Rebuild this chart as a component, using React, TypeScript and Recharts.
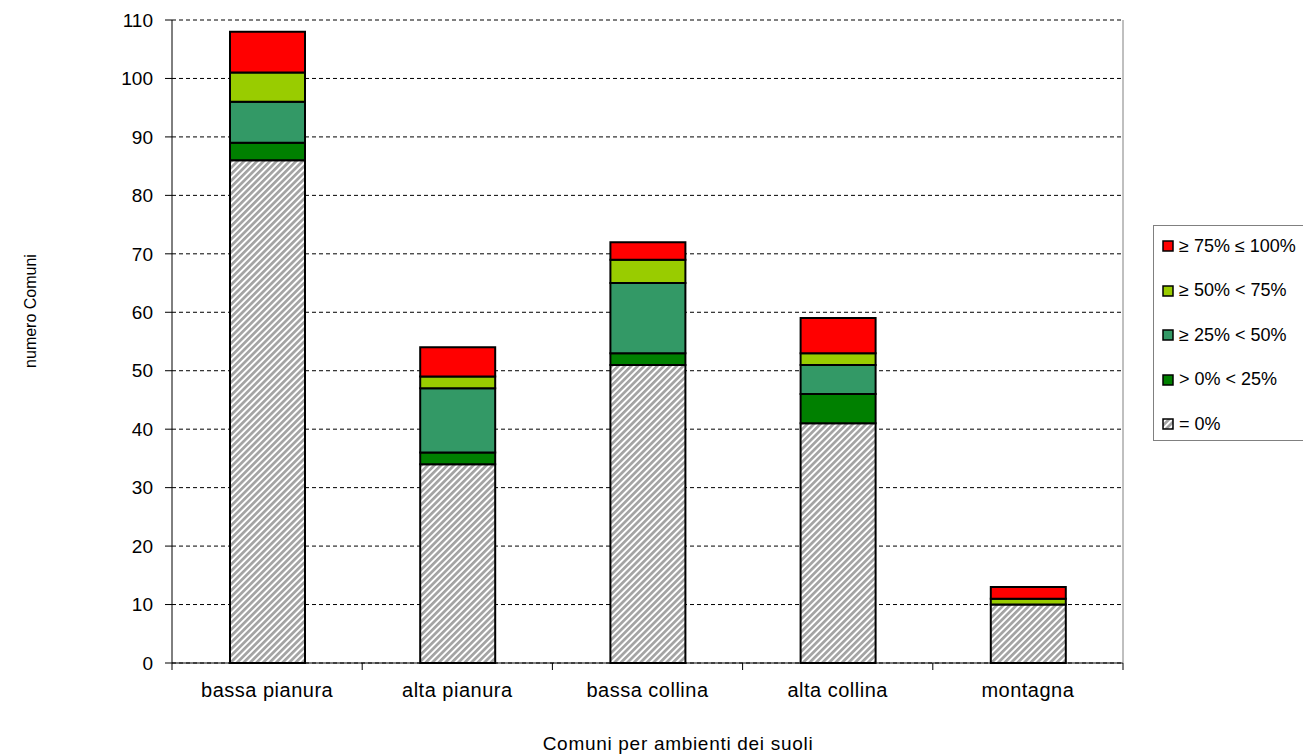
import React from "react";
import { BarChart, Bar, XAxis, YAxis, CartesianGrid } from "recharts";

const categories = [
  "bassa pianura",
  "alta pianura",
  "bassa collina",
  "alta collina",
  "montagna",
];
const zeroPct = [86, 34, 51, 41, 10];
const upTo25 = [3, 2, 2, 5, 0];
const upTo50 = [7, 11, 12, 5, 0];
const upTo75 = [5, 2, 4, 2, 1];
const upTo100 = [7, 5, 3, 6, 2];
const yTicks = [0, 10, 20, 30, 40, 50, 60, 70, 80, 90, 100, 110];

const series = [
  { key: "zeroPct", label: "= 0%", fill: "url(#hatch)" },
  { key: "upTo25", label: "> 0% < 25%", fill: "#008000" },
  { key: "upTo50", label: "≥ 25% < 50%", fill: "#339966" },
  { key: "upTo75", label: "≥ 50% < 75%", fill: "#99CC00" },
  { key: "upTo100", label: "≥ 75% ≤ 100%", fill: "#FF0000" },
];

const data = categories.map((name, i) => ({
  name,
  zeroPct: zeroPct[i],
  upTo25: upTo25[i],
  upTo50: upTo50[i],
  upTo75: upTo75[i],
  upTo100: upTo100[i],
}));

const WIDTH = 1303;
const HEIGHT = 756;
const MARGIN = { top: 20, right: 179, bottom: 0, left: 0 };
const Y_AXIS_W = 172;
const PLOT_W = WIDTH - MARGIN.left - MARGIN.right - Y_AXIS_W - 1;
const BAND = PLOT_W / categories.length;
const FONT = '"Liberation Sans", Arial, sans-serif';

function CategoryTick(props: any) {
  const { x, y, payload, index } = props;
  return (
    <g>
      <line x1={x - BAND / 2} x2={x - BAND / 2} y1={y} y2={y + 7} stroke="#000" />
      {index === categories.length - 1 && (
        <line x1={x + BAND / 2} x2={x + BAND / 2} y1={y} y2={y + 7} stroke="#000" />
      )}
      <text
        x={x}
        y={y + 34}
        textAnchor="middle"
        fontSize={20}
        fontFamily={FONT}
        letterSpacing={0.5}
        fill="#000"
      >
        {payload.value}
      </text>
    </g>
  );
}

function HatchDefs({ id }: { id: string }) {
  return (
    <defs>
      <pattern
        id={id}
        patternUnits="userSpaceOnUse"
        width={4.6}
        height={4.6}
        patternTransform="rotate(45)"
      >
        <rect width={4.6} height={4.6} fill="#fff" />
        <rect width={2.7} height={4.6} fill="#a3a3a3" />
      </pattern>
    </defs>
  );
}

function ChartLegend() {
  const items = [...series].reverse();
  return (
    <div
      style={{
        position: "absolute",
        left: 1153,
        top: 225,
        width: 160,
        height: 214,
        border: "1px solid #808080",
        background: "#fff",
        fontFamily: FONT,
        fontSize: 18,
        color: "#000",
      }}
    >
      {items.map((s, i) => (
        <div
          key={s.key}
          style={{
            position: "absolute",
            left: 8,
            top: 10 + i * 44.5,
            height: 20,
            display: "flex",
            alignItems: "center",
            whiteSpace: "nowrap",
          }}
        >
          <svg width={12} height={12} style={{ marginRight: 5 }}>
            {s.key === "zeroPct" && <HatchDefs id="hatchLegend" />}
            <rect
              x={1}
              y={1}
              width={10}
              height={10}
              fill={s.key === "zeroPct" ? "url(#hatchLegend)" : s.fill}
              stroke="#000"
              strokeWidth={1.5}
            />
          </svg>
          <span>{s.label}</span>
        </div>
      ))}
    </div>
  );
}

export default function App() {
  return (
    <div
      style={{
        position: "absolute",
        left: 0,
        top: 0,
        width: WIDTH,
        height: HEIGHT,
        overflow: "hidden",
        background: "#fff",
      }}
    >
      <BarChart width={WIDTH} height={HEIGHT} data={data} margin={MARGIN}>
        <HatchDefs id="hatch" />
        <CartesianGrid vertical={false} stroke="#000" strokeDasharray="4 3" />
        <XAxis
          dataKey="name"
          height={93}
          stroke="#000"
          tickLine={false}
          tickSize={0}
          tickMargin={0}
          interval={0}
          tick={<CategoryTick />}
          label={{
            content: () => (
              <text
                x={678}
                y={750}
                textAnchor="middle"
                fontSize={19}
                fontFamily={FONT}
                fill="#000"
                letterSpacing={0.7}
              >
                Comuni per ambienti dei suoli
              </text>
            ),
          }}
        />
        <YAxis
          width={Y_AXIS_W}
          domain={[0, 110]}
          ticks={yTicks}
          interval={0}
          stroke="#000"
          tickSize={7}
          tickMargin={12}
          tick={{ fontSize: 19, fill: "#000", fontFamily: FONT }}
          label={{
            content: () => (
              <text
                x={30}
                y={311}
                transform="rotate(-90, 30, 311)"
                textAnchor="middle"
                dominantBaseline="central"
                fontSize={16}
                fontFamily={FONT}
                fill="#000"
              >
                numero Comuni
              </text>
            ),
          }}
        />
        <YAxis
          yAxisId="r"
          orientation="right"
          width={1}
          domain={[0, 110]}
          tick={false}
          tickLine={false}
          stroke="#808080"
        />
        {series.map((s) => (
          <Bar
            key={s.key}
            dataKey={s.key}
            stackId="a"
            fill={s.fill}
            stroke="#000"
            strokeWidth={2}
            barSize={75}
            isAnimationActive={false}
          />
        ))}
      </BarChart>
      <ChartLegend />
    </div>
  );
}
